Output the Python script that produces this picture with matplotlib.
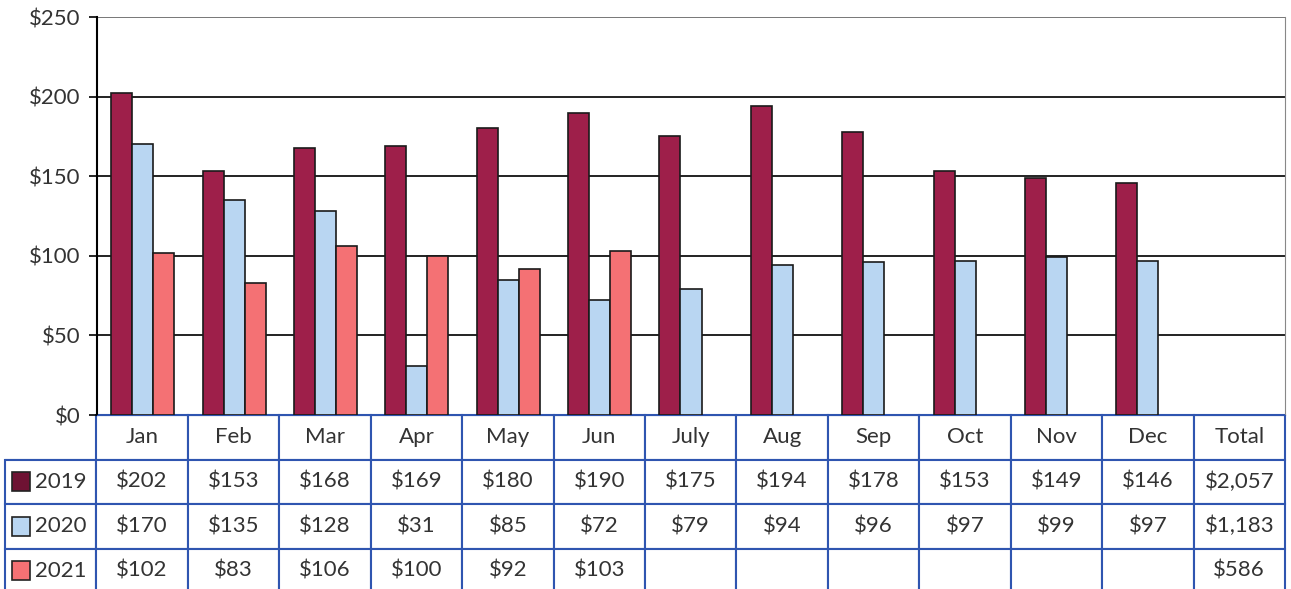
import matplotlib.pyplot as plt
from matplotlib.patches import Rectangle

plt.rcParams['font.family'] = ['Lato', 'DejaVu Sans']

months = ['Jan', 'Feb', 'Mar', 'Apr', 'May', 'Jun', 'July', 'Aug', 'Sep', 'Oct', 'Nov', 'Dec']
years = ['2019', '2020', '2021']
v2019 = [202, 153, 168, 169, 180, 190, 175, 194, 178, 153, 149, 146]
v2020 = [170, 135, 128, 31, 85, 72, 79, 94, 96, 97, 99, 97]
v2021 = [102, 83, 106, 100, 92, 103]
totals = ['$2,057', '$1,183', '$586']

bar_colors = ['#9e1f4a', '#b9d6f2', '#f47174']
legend_colors = ['#6e1233', '#b9d6f2', '#f47174']
blue = '#2f55b0'
txt = '#333333'

fig = plt.figure(figsize=(12.91, 5.89), dpi=100)
ax = fig.add_axes([97 / 1291, 1 - 415 / 589, 1188 / 1291, 398 / 589])

w = 0.23
series = [v2019, v2020, v2021]
for i, vals in enumerate(series):
    xs = [k + (i - 1) * w for k in range(len(vals))]
    ax.bar(xs, vals, width=w, color=bar_colors[i], edgecolor='#1a1a1a', linewidth=1.2, zorder=3)

ax.set_xlim(-0.5, 12.5)
ax.set_ylim(0, 250)
ax.set_yticks(range(0, 251, 50))
ax.set_yticklabels(['$' + str(t) for t in range(0, 251, 50)], fontsize=16, color=txt)
ax.tick_params(axis='y', length=6, width=1.2, pad=6)
ax.set_xticks([])
for y in range(50, 251, 50):
    ax.axhline(y, color='#222222' if y < 250 else '#777777', lw=1.4, zorder=1)
ax.spines['left'].set_linewidth(1.5)
ax.spines['right'].set_color('#888888')
ax.spines['top'].set_visible(False)
ax.spines['bottom'].set_color(blue)

# table below the bars, first column holds the legend keys
cells = []
for i, vals in enumerate(series):
    row = [''] + ['$' + str(v) for v in vals] + [''] * (12 - len(vals)) + [totals[i]]
    cells.append(row)

rh = 44.5 / 398
lw_col = 92 / 1188
tab = ax.table(cellText=cells, colLabels=[''] + months + ['Total'],
               cellLoc='center', bbox=[-lw_col, -4 * rh, 1 + lw_col, 4 * rh])
tab.auto_set_font_size(False)
tab.set_fontsize(16)
for (r, c), cell in tab.get_celld().items():
    cell.set_edgecolor(blue)
    cell.set_linewidth(1.5)
    cell.get_text().set_color(txt)
    if r == 0 and c == 0:
        cell.visible_edges = 'B'

for i, yr in enumerate(years):
    yc = -(i + 1.5) * rh
    ax.add_patch(Rectangle((-0.0716, yc - 0.024), 0.0152, 0.048, transform=ax.transAxes,
                           facecolor=legend_colors[i], edgecolor='#222222', lw=1.2,
                           clip_on=False, zorder=5))
    ax.text(-0.052, yc, yr, transform=ax.transAxes, fontsize=16, color=txt,
            ha='left', va='center')

fig.savefig('out.png', dpi=100)
